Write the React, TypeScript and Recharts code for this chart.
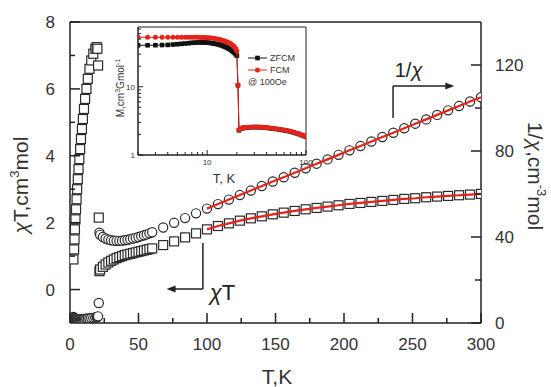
import React from 'react';
import {
  ComposedChart, Scatter, XAxis, YAxis, ReferenceLine, ReferenceDot, ReferenceArea, Legend,
} from 'recharts';

// ---------- main plot data ----------
// low temperature (T < 22 K) region
const lowT = [2.5, 3, 3.3, 3.6, 4, 4.4, 4.8, 5.2, 5.7, 6.2, 6.8, 7.4, 8, 8.7, 9.4, 10.2, 11, 12, 13, 14.2, 15.5, 17, 18.5, 19.5, 20, 20.5, 21, 21.5];
const lowChiT = [0.9, 1.2, 1.5, 1.8, 2.1, 2.4, 2.7, 3.0, 3.3, 3.6, 3.9, 4.2, 4.5, 4.8, 5.1, 5.4, 5.7, 6.0, 6.3, 6.6, 6.85, 7.05, 7.2, 7.25, 7.2, 6.7, 2.15, 0.55];
const lowInvChi = [2.8, 2.5, 2.2, 2.0, 1.9, 1.8, 1.8, 1.7, 1.7, 1.7, 1.7, 1.8, 1.8, 1.8, 1.8, 1.9, 1.9, 2.0, 2.1, 2.1, 2.3, 2.4, 2.6, 2.7, 2.8, 3.1, 9.3, 42];

// paramagnetic region
const highT = [22, 24, 26, 28, 30, 32, 34, 36, 38, 40, 42, 44, 46, 48, 50, 52, 54, 56, 58,
  60, 68, 76, 84, 92, 100, 108, 116, 124, 132, 140, 148, 156, 164, 172, 180, 188, 196, 204, 212,
  220, 228, 236, 244, 252, 260, 268, 276, 284, 292, 300];
const highChiT = [0.60, 0.68, 0.75, 0.81, 0.86, 0.90, 0.94, 0.97, 1.00, 1.03, 1.05, 1.07, 1.09, 1.11, 1.13, 1.15, 1.17, 1.19, 1.21,
  1.23, 1.33, 1.44, 1.56, 1.68, 1.80, 1.90, 1.98, 2.06, 2.13, 2.19, 2.25, 2.30, 2.35, 2.40, 2.44, 2.48, 2.52, 2.56, 2.59,
  2.62, 2.65, 2.68, 2.71, 2.73, 2.76, 2.78, 2.80, 2.82, 2.84, 2.86];
const highInvChi = [41.0, 40.0, 39.3, 38.8, 38.5, 38.3, 38.2, 38.2, 38.3, 38.5, 38.7, 39.0, 39.3, 39.6, 40.0, 40.4, 40.8, 41.2, 41.7,
  42.2, 44.4, 46.6, 48.8, 51.0, 53.2, 55.3, 57.4, 59.5, 61.6, 63.7, 65.8, 67.8, 69.9, 72.0, 74.1, 76.1, 78.2, 80.3, 82.3,
  84.4, 86.5, 88.5, 90.6, 92.7, 94.7, 96.8, 98.9, 100.9, 103.0, 105.0];
const fitStartT = 100;

const xTicks = [0, 25, 50, 75, 100, 125, 150, 175, 200, 225, 250, 275, 300];
const leftTicks = [0, 1, 2, 3, 4, 5, 6, 7, 8];
const rightTicks = [0, 20, 40, 60, 80, 100, 120];

// ---------- inset data ----------
const insetT = [2, 2.5, 3, 3.5, 4, 4.5, 5, 5.5, 6, 6.5, 7, 7.5, 8, 8.5, 9, 9.5, 10, 10.5, 11, 11.5, 12, 12.5, 13, 13.5, 14, 14.5, 15, 15.5, 16, 16.5, 17, 17.5, 18, 18.5, 19, 19.5, 20,
  20.5, 21, 22, 23, 24, 25, 26, 28, 30, 32, 34, 36, 38, 40, 43, 46, 50, 54, 58, 62, 66, 70, 75, 80, 85, 90, 95, 100];
const zfcm = [40.5, 40.5, 40.6, 40.8, 41, 41.5, 42, 42.5, 43, 43.5, 44, 44.3, 44.5, 44.6, 44.6, 44.5, 44.3, 44, 43.6, 43.2,
  42.7, 42.2, 41.6, 41, 40.3, 39.6, 38.8, 38, 37.2, 36.3, 35.4, 34.4, 33.4, 32.3, 31.2, 30, 28.5,
  10.5, 2.3, 2.45, 2.48, 2.5, 2.52, 2.53, 2.55, 2.56, 2.56, 2.55, 2.54, 2.52, 2.5, 2.47, 2.44, 2.4, 2.36, 2.32, 2.28, 2.24, 2.2,
  2.14, 2.08, 2.02, 1.96, 1.9, 1.85];
const fcm = [53, 53, 53, 53, 53, 53, 53, 53, 53, 53, 53, 53, 52.9, 52.8, 52.7, 52.5, 52.3, 52, 51.6, 51.2,
  50.7, 50.2, 49.6, 49, 48.3, 47.6, 46.8, 46, 45.1, 44.2, 43.2, 42.1, 40.9, 39.5, 37.9, 36, 33.5,
  10.6, 2.35, 2.47, 2.5, 2.52, 2.54, 2.55, 2.57, 2.58, 2.58, 2.57, 2.56, 2.54, 2.52, 2.49, 2.46, 2.42, 2.38, 2.34, 2.3, 2.26, 2.22,
  2.16, 2.1, 2.04, 1.98, 1.92, 1.87];
const insetXTicks = [2, 3, 4, 5, 6, 7, 8, 9, 10, 20, 30, 40, 50, 60, 70, 80, 90, 100];
const insetYTicks = [1, 2, 3, 4, 5, 6, 7, 8, 9, 10, 20, 30, 40, 50, 60, 70];

const pts = (xs: number[], ys: number[]) => xs.map((x, i) => ({ x, y: ys[i] }));

const chiTLow = pts(lowT, lowChiT);
const chiTHigh = pts(highT, highChiT);
const invLow = pts(lowT, lowInvChi);
const invHigh = pts(highT, highInvChi);
const fitChiT = chiTHigh.filter((p) => p.x >= fitStartT);
const fitInv = invHigh.filter((p) => p.x >= fitStartT);
const zfcmPts = pts(insetT, zfcm);
const fcmPts = pts(insetT, fcm);

const AX = '#222';
const TXT = '#333';

// ---------- shapes ----------
const SquareMark = (p: any) =>
  p.cx == null ? <g /> : (
    <rect x={p.cx - 4.5} y={p.cy - 4.5} width={9} height={9} fill="#fff" stroke="#2a2a2a" strokeWidth={1.2} />
  );
const CircleMark = (p: any) =>
  p.cx == null ? <g /> : <circle cx={p.cx} cy={p.cy} r={4.6} fill="#fff" stroke="#2a2a2a" strokeWidth={1.2} />;
const NoMark = () => <g />;
const SmallSquare = (p: any) =>
  p.cx == null ? <g /> : <rect x={p.cx - 2.3} y={p.cy - 2.3} width={4.6} height={4.6} fill="#111" />;
const SmallCircle = (p: any) =>
  p.cx == null ? <g /> : <circle cx={p.cx} cy={p.cy} r={2.5} fill="#e3241b" />;

// ---------- ticks ----------
const XTick = (props: any) => {
  const { x, y, payload } = props;
  const v = payload.value;
  const major = v % 50 === 0;
  return (
    <g>
      <line x1={x} x2={x} y1={y} y2={y - (major ? 10 : 5)} stroke={AX} strokeWidth={1.5} />
      {major && (
        <text x={x} y={y + 15} dy="0.71em" textAnchor="middle" fontSize={17} fill={TXT}>{v}</text>
      )}
    </g>
  );
};
const LeftTick = (props: any) => {
  const { x, y, payload } = props;
  const v = payload.value;
  const major = v % 2 === 0;
  return (
    <g>
      <line x1={x} x2={x + (major ? 10 : 5)} y1={y} y2={y} stroke={AX} strokeWidth={1.5} />
      {major && (
        <text x={x - 15} y={y} dy="0.36em" textAnchor="end" fontSize={17} fill={TXT}>{v}</text>
      )}
    </g>
  );
};
const RightTick = (props: any) => {
  const { x, y, payload } = props;
  const v = payload.value;
  const major = v % 40 === 0;
  return (
    <g>
      <line x1={x} x2={x - (major ? 10 : 6)} y1={y} y2={y} stroke={AX} strokeWidth={1.5} />
      {major && (
        <text x={x + 14} y={y} dy="0.36em" textAnchor="start" fontSize={17} fill={TXT}>{v}</text>
      )}
    </g>
  );
};
const decades = [1, 10, 100];
const InsetXTick = (props: any) => {
  const { x, y, payload } = props;
  const v = payload.value;
  const major = decades.includes(v);
  return (
    <g>
      <line x1={x} x2={x} y1={y} y2={y - (major ? 5 : 3)} stroke={AX} strokeWidth={1} />
      {major && v !== 2 && (
        <text x={x} y={y + 4} dy="0.71em" textAnchor="middle" fontSize={8} fill={TXT}>{v}</text>
      )}
    </g>
  );
};
const InsetYTick = (props: any) => {
  const { x, y, payload } = props;
  const v = payload.value;
  const major = decades.includes(v);
  return (
    <g>
      <line x1={x} x2={x + (major ? 5 : 3)} y1={y} y2={y} stroke={AX} strokeWidth={1} />
      {major && (
        <text x={x - 3} y={y} dy="0.36em" textAnchor="end" fontSize={8} fill={TXT}>{v}</text>
      )}
    </g>
  );
};

// ---------- axis titles ----------
const LeftTitle = () => (
  <text transform="translate(28,185) rotate(-90)" textAnchor="middle" fontSize={21} fill={TXT}>
    <tspan fontStyle="italic">χ</tspan>
    <tspan>T,cm</tspan>
    <tspan dy={-9} fontSize={13}>3</tspan>
    <tspan dy={9}>mol</tspan>
  </text>
);
const RightTitle = () => (
  <text transform="translate(528,176) rotate(90)" textAnchor="middle" fontSize={21} fill={TXT}>
    <tspan>1/</tspan>
    <tspan fontStyle="italic">χ</tspan>
    <tspan>,cm</tspan>
    <tspan dy={-9} fontSize={13}>-3</tspan>
    <tspan dy={9}>mol</tspan>
  </text>
);
const BottomTitle = () => (
  <text x={277} y={384} textAnchor="middle" fontSize={21} fill={TXT}>T,K</text>
);
const InsetYTitle = () => (
  <text transform="translate(24,78) rotate(-90)" textAnchor="middle" fontSize={10} fill={TXT}>
    <tspan>M,cm</tspan>
    <tspan dy={-4} fontSize={7}>3</tspan>
    <tspan dy={4}>Gmol</tspan>
    <tspan dy={-4} fontSize={7}>-1</tspan>
  </text>
);
const InsetXTitle = () => (
  <text x={124} y={173} textAnchor="middle" fontSize={13} fill={TXT}>T, K</text>
);

const InsetLegend = () => (
  <svg width={62} height={40} style={{ display: 'block' }}>
    <line x1={0} y1={6} x2={19} y2={6} stroke="#111" strokeWidth={1} />
    <rect x={7.2} y={3.7} width={4.6} height={4.6} fill="#111" />
    <text x={22} y={9} fontSize={9} fill={TXT}>ZFCM</text>
    <line x1={0} y1={18} x2={19} y2={18} stroke="#e3241b" strokeWidth={1} />
    <circle cx={9.5} cy={18} r={2.5} fill="#e3241b" />
    <text x={22} y={21} fontSize={9} fill={TXT}>FCM</text>
    <text x={0} y={33} fontSize={9} fill={TXT}>@ 100Oe</text>
  </svg>
);

// ---------- annotation shapes ----------
const ArrowRight = (p: any) => (
  <path d={`M${p.cx},${p.cy} l-9,-3.5 l0,7 z`} fill={AX} />
);
const ArrowLeft = (p: any) => (
  <path d={`M${p.cx},${p.cy} l9,-3.5 l0,7 z`} fill={AX} />
);
const InvChiText = (p: any) => (
  <text x={p.cx} y={p.cy} fontSize={20} fill={AX}>
    <tspan>1/</tspan><tspan fontStyle="italic">χ</tspan>
  </text>
);
const ChiTText = (p: any) => (
  <text x={p.cx} y={p.cy} fontSize={22} fill={AX}>
    <tspan fontStyle="italic">χ</tspan><tspan>T</tspan>
  </text>
);

export default function App() {
  return (
    <div style={{ position: 'absolute', left: 0, top: 0, width: 551, height: 387, background: '#fff', fontFamily: '"Liberation Sans", Arial, sans-serif' }}>
      <div style={{ position: 'absolute', left: 0, top: 0 }}>
        <ComposedChart width={551} height={387} margin={{ top: 22, right: 0, bottom: 0, left: 0 }}>
          <XAxis
            type="number" dataKey="x" domain={[0, 300]} ticks={xTicks} interval={0} allowDataOverflow
            height={64} tickSize={0} tickMargin={0} tickLine={false} tick={<XTick />}
            axisLine={{ stroke: AX, strokeWidth: 1.5 }} label={<BottomTitle />}
          />
          <YAxis
            yAxisId="L" type="number" dataKey="y" domain={[-1, 8]} ticks={leftTicks} interval={0} allowDataOverflow
            width={70} tickSize={0} tickMargin={0} tickLine={false} tick={<LeftTick />}
            axisLine={{ stroke: AX, strokeWidth: 1.5 }} label={<LeftTitle />}
          />
          <YAxis
            yAxisId="R" orientation="right" type="number" dataKey="y" domain={[0, 140]} ticks={rightTicks} interval={0} allowDataOverflow
            width={70} tickSize={0} tickMargin={0} tickLine={false} tick={<RightTick />}
            axisLine={{ stroke: AX, strokeWidth: 1.5 }} label={<RightTitle />}
          />
          <ReferenceLine yAxisId="L" y={8} stroke={AX} strokeWidth={1.5} />

          <Scatter yAxisId="R" data={invLow} shape={CircleMark} isAnimationActive={false} />
          <Scatter yAxisId="R" data={invHigh} shape={CircleMark} isAnimationActive={false} />
          <Scatter yAxisId="L" data={chiTLow} shape={SquareMark} isAnimationActive={false} />
          <Scatter yAxisId="L" data={chiTHigh} shape={SquareMark} isAnimationActive={false} />
          <Scatter yAxisId="R" data={fitInv} shape={NoMark} line={{ stroke: '#e3241b', strokeWidth: 2.2 }} isAnimationActive={false} />
          <Scatter yAxisId="L" data={fitChiT} shape={NoMark} line={{ stroke: '#e3241b', strokeWidth: 2.2 }} isAnimationActive={false} />

          {/* 1/chi annotation */}
          <ReferenceLine yAxisId="R" segment={[{ x: 235.8, y: 95.3 }, { x: 235.8, y: 110.2 }]} stroke={AX} strokeWidth={1.5} />
          <ReferenceLine yAxisId="R" segment={[{ x: 235.8, y: 110.2 }, { x: 277, y: 110.2 }]} stroke={AX} strokeWidth={1.5} />
          <ReferenceDot yAxisId="R" x={280.5} y={110.2} shape={ArrowRight} />
          <ReferenceDot yAxisId="R" x={237} y={114.4} shape={InvChiText} />

          {/* chiT annotation */}
          <ReferenceLine yAxisId="L" segment={[{ x: 97, y: 1.39 }, { x: 97, y: 0.02 }]} stroke={AX} strokeWidth={1.5} />
          <ReferenceLine yAxisId="L" segment={[{ x: 97, y: 0.02 }, { x: 73, y: 0.02 }]} stroke={AX} strokeWidth={1.5} />
          <ReferenceDot yAxisId="L" x={70.5} y={0.02} shape={ArrowLeft} />
          <ReferenceDot yAxisId="L" x={102} y={-0.31} shape={ChiTText} />
        </ComposedChart>
      </div>

      <div style={{ position: 'absolute', left: 100, top: 10 }}>
        <ComposedChart width={215} height={180} margin={{ top: 17, right: 9, bottom: 0, left: 0 }}>
          <XAxis
            type="number" dataKey="x" scale="log" domain={[2, 100]} ticks={insetXTicks} interval={0} allowDataOverflow
            height={35} tickSize={0} tickMargin={0} tickLine={false} tick={<InsetXTick />}
            axisLine={{ stroke: AX, strokeWidth: 1 }} label={<InsetXTitle />}
          />
          <YAxis
            type="number" dataKey="y" scale="log" domain={[1, 75]} ticks={insetYTicks} interval={0} allowDataOverflow
            width={38} tickSize={0} tickMargin={0} tickLine={false} tick={<InsetYTick />}
            axisLine={{ stroke: AX, strokeWidth: 1 }} label={<InsetYTitle />}
          />
          <ReferenceArea x1={2} x2={100} y1={1} y2={75} fill="none" stroke={AX} strokeWidth={1} />
          <Scatter data={zfcmPts} shape={SmallSquare} line={{ stroke: '#111', strokeWidth: 1 }} isAnimationActive={false} />
          <Scatter data={fcmPts} shape={SmallCircle} line={{ stroke: '#e3241b', strokeWidth: 1 }} isAnimationActive={false} />
          <Legend layout="vertical" align="center" verticalAlign="middle" content={<InsetLegend />}
            wrapperStyle={{ left: 148, top: 42, width: 62, height: 40 }} />
        </ComposedChart>
      </div>
    </div>
  );
}
